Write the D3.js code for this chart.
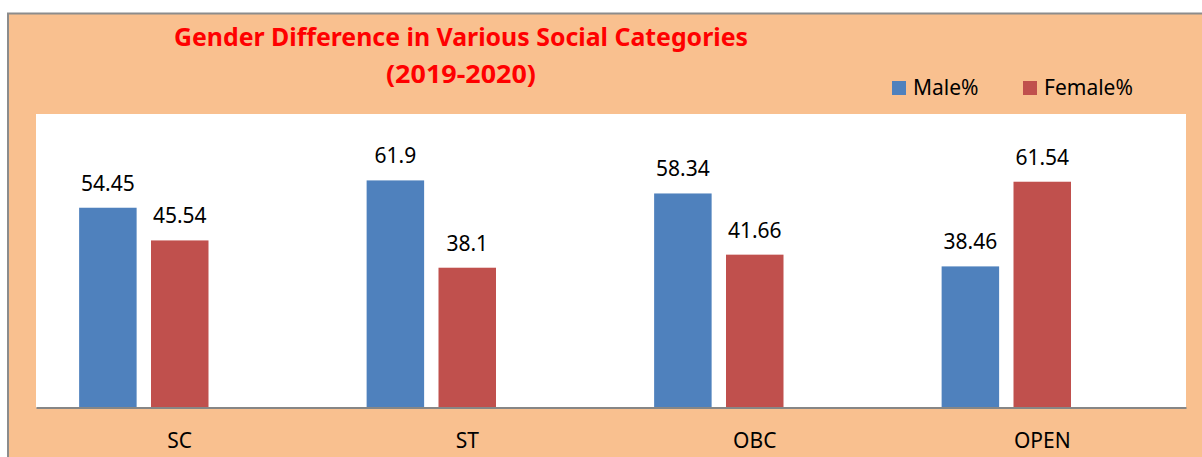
<!DOCTYPE html>
<html>
<head>
<meta charset="utf-8">
<script src="https://cdn.jsdelivr.net/npm/d3@7"></script>
<style>
  html, body { margin: 0; padding: 0; background: #fff; overflow: hidden; }
  text { font-family: "Noto Sans", "Open Sans", sans-serif; }
</style>
</head>
<body>
<div id="chart"></div>
<script>
// data
var categories = ["SC", "ST", "OBC", "OPEN"];
var seriesNames = ["Male%", "Female%"];
var maleValues = [54.45, 61.9, 58.34, 38.46];
var femaleValues = [45.54, 38.1, 41.66, 61.54];
var valueLabels = [["54.45", "61.9", "58.34", "38.46"], ["45.54", "38.1", "41.66", "61.54"]];
var titleLines = ["Gender Difference in Various Social Categories", "(2019-2020)"];

var W = 1202, H = 457;
var colors = ["#4F81BD", "#C0504D"];

var plot = { left: 36, top: 114, right: 1186, bottom: 407.5 };

var svg = d3.select("#chart").append("svg")
    .attr("width", W)
    .attr("height", H);

// outer chart area (peach, border runs off the right/bottom edge)
svg.append("rect")
    .attr("x", 8).attr("y", 13.5)
    .attr("width", W + 20).attr("height", H + 20)
    .attr("fill", "#F9C08F")
    .attr("stroke", "#8C8C8C")
    .attr("stroke-width", 2);

// plot area
svg.append("rect")
    .attr("x", plot.left).attr("y", plot.top)
    .attr("width", plot.right - plot.left).attr("height", plot.bottom - plot.top)
    .attr("fill", "#FFFFFF");

var x = d3.scaleBand()
    .domain(categories)
    .range([plot.left, plot.right])
    .padding(0);

var y = d3.scaleLinear()
    .domain([0, 80])
    .range([plot.bottom, plot.top]);

// bars sit left of the band centre, like the original
var sub = d3.scaleOrdinal().domain(seriesNames).range([0.15, 0.40]);
var barFrac = 0.2;

var rows = [];
categories.forEach(function(c, i) {
    rows.push({ cat: c, s: 0, v: maleValues[i], label: valueLabels[0][i] });
    rows.push({ cat: c, s: 1, v: femaleValues[i], label: valueLabels[1][i] });
});

var bw = x.bandwidth();

svg.append("g").selectAll("rect")
    .data(rows)
    .join("rect")
    .attr("x", function(d) { return x(d.cat) + sub(seriesNames[d.s]) * bw; })
    .attr("y", function(d) { return y(d.v); })
    .attr("width", barFrac * bw)
    .attr("height", function(d) { return y(0) - y(d.v); })
    .attr("fill", function(d) { return colors[d.s]; });

svg.append("g").selectAll("text")
    .data(rows)
    .join("text")
    .attr("x", function(d) { return x(d.cat) + (sub(seriesNames[d.s]) + barFrac / 2) * bw; })
    .attr("y", function(d) { return y(d.v) - 17; })
    .attr("text-anchor", "middle")
    .attr("fill", "#000")
    .style("font-size", "21px")
    .text(function(d) { return d.label; });

// category axis
var xAxis = svg.append("g")
    .attr("transform", "translate(0," + plot.bottom + ")")
    .call(d3.axisBottom(x).tickSize(0).tickPadding(26));
xAxis.select(".domain").attr("stroke", "#868686").attr("stroke-width", 2);
xAxis.selectAll("text")
    .attr("fill", "#000")
    .style("font-size", "21px")
    .style("font-family", "'Noto Sans', sans-serif");

// title
svg.append("text")
    .attr("x", 461).attr("y", 46)
    .attr("text-anchor", "middle")
    .attr("fill", "#FF0000")
    .style("font-size", "25px")
    .style("font-weight", "bold")
    .attr("textLength", 574)
    .attr("lengthAdjust", "spacingAndGlyphs")
    .text(titleLines[0]);
svg.append("text")
    .attr("x", 461).attr("y", 83)
    .attr("text-anchor", "middle")
    .attr("fill", "#FF0000")
    .style("font-size", "25px")
    .style("font-weight", "bold")
    .attr("textLength", 150)
    .attr("lengthAdjust", "spacingAndGlyphs")
    .text(titleLines[1]);

// legend
var legendX = [892, 1023];
var legend = svg.append("g").selectAll("g")
    .data(seriesNames)
    .join("g")
    .attr("transform", function(d, i) { return "translate(" + legendX[i] + ",81)"; });
legend.append("rect")
    .attr("width", 14).attr("height", 14)
    .attr("fill", function(d, i) { return colors[i]; });
legend.append("text")
    .attr("x", 21).attr("y", 14)
    .attr("fill", "#000")
    .style("font-size", "21px")
    .text(function(d) { return d; });
</script>
</body>
</html>
